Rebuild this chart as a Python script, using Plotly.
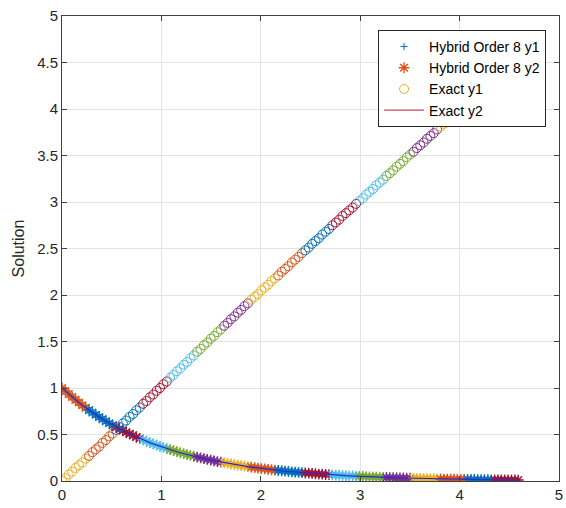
import plotly.graph_objects as go

# time mesh (17 blocks of 8 points each)
t = [0.000, 0.034, 0.068, 0.102, 0.136, 0.170, 0.204, 0.238,
     0.272, 0.306, 0.340, 0.374, 0.408, 0.442, 0.476, 0.510,
     0.544, 0.578, 0.612, 0.646, 0.680, 0.714, 0.748, 0.782,
     0.816, 0.850, 0.884, 0.918, 0.952, 0.986, 1.020, 1.054,
     1.088, 1.122, 1.156, 1.190, 1.224, 1.258, 1.292, 1.326,
     1.360, 1.394, 1.428, 1.462, 1.496, 1.530, 1.564, 1.598,
     1.632, 1.666, 1.700, 1.734, 1.768, 1.802, 1.836, 1.870,
     1.904, 1.938, 1.972, 2.006, 2.040, 2.074, 2.108, 2.142,
     2.176, 2.210, 2.244, 2.278, 2.312, 2.346, 2.380, 2.414,
     2.448, 2.482, 2.516, 2.550, 2.584, 2.618, 2.652, 2.686,
     2.720, 2.754, 2.788, 2.822, 2.856, 2.890, 2.924, 2.958,
     2.992, 3.026, 3.060, 3.094, 3.128, 3.162, 3.196, 3.230,
     3.264, 3.298, 3.332, 3.366, 3.400, 3.434, 3.468, 3.502,
     3.536, 3.570, 3.604, 3.638, 3.672, 3.706, 3.740, 3.774,
     3.808, 3.842, 3.876, 3.910, 3.944, 3.978, 4.012, 4.046,
     4.080, 4.114, 4.148, 4.182, 4.216, 4.250, 4.284, 4.318,
     4.352, 4.386, 4.420, 4.454, 4.488, 4.522, 4.556, 4.590]

# exact y1 (rises almost linearly)
exact_y1 = [0.00, 0.03, 0.07, 0.10, 0.14, 0.17, 0.20, 0.24,
            0.27, 0.31, 0.34, 0.37, 0.41, 0.44, 0.48, 0.51,
            0.55, 0.58, 0.62, 0.65, 0.69, 0.72, 0.76, 0.79,
            0.83, 0.86, 0.90, 0.93, 0.97, 1.00, 1.04, 1.07,
            1.11, 1.14, 1.18, 1.21, 1.25, 1.28, 1.32, 1.35,
            1.39, 1.42, 1.46, 1.49, 1.53, 1.56, 1.60, 1.63,
            1.67, 1.70, 1.74, 1.77, 1.81, 1.84, 1.88, 1.91,
            1.95, 1.98, 2.01, 2.05, 2.08, 2.11, 2.15, 2.18,
            2.21, 2.25, 2.28, 2.31, 2.35, 2.38, 2.41, 2.45,
            2.48, 2.51, 2.55, 2.58, 2.61, 2.65, 2.68, 2.71,
            2.75, 2.78, 2.81, 2.85, 2.88, 2.91, 2.94, 2.98,
            3.01, 3.04, 3.08, 3.11, 3.14, 3.18, 3.21, 3.24,
            3.28, 3.31, 3.34, 3.38, 3.41, 3.44, 3.48, 3.51,
            3.54, 3.58, 3.61, 3.64, 3.68, 3.71, 3.74, 3.78,
            3.81, 3.84, 3.88, 3.91, 3.94, 3.98, 4.01, 4.04,
            4.08, 4.11, 4.14, 4.18, 4.21, 4.24, 4.28, 4.31,
            4.34, 4.38, 4.41, 4.44, 4.48, 4.51, 4.54, 4.58]

# exact y2 (decays towards zero)
exact_y2 = [1.000, 0.967, 0.934, 0.903, 0.873, 0.844, 0.815, 0.788,
            0.762, 0.736, 0.712, 0.688, 0.665, 0.643, 0.621, 0.600,
            0.580, 0.561, 0.542, 0.524, 0.507, 0.490, 0.473, 0.457,
            0.442, 0.427, 0.413, 0.399, 0.386, 0.373, 0.361, 0.349,
            0.337, 0.326, 0.315, 0.304, 0.294, 0.284, 0.275, 0.266,
            0.257, 0.248, 0.240, 0.232, 0.224, 0.217, 0.209, 0.202,
            0.196, 0.189, 0.183, 0.177, 0.171, 0.165, 0.159, 0.154,
            0.149, 0.144, 0.139, 0.134, 0.130, 0.126, 0.121, 0.117,
            0.113, 0.110, 0.106, 0.102, 0.099, 0.096, 0.093, 0.089,
            0.086, 0.084, 0.081, 0.078, 0.075, 0.073, 0.070, 0.068,
            0.066, 0.064, 0.062, 0.059, 0.057, 0.056, 0.054, 0.052,
            0.050, 0.049, 0.047, 0.045, 0.044, 0.042, 0.041, 0.040,
            0.038, 0.037, 0.036, 0.035, 0.033, 0.032, 0.031, 0.030,
            0.029, 0.028, 0.027, 0.026, 0.025, 0.025, 0.024, 0.023,
            0.022, 0.021, 0.021, 0.020, 0.019, 0.019, 0.018, 0.017,
            0.017, 0.016, 0.016, 0.015, 0.015, 0.014, 0.014, 0.013,
            0.013, 0.012, 0.012, 0.012, 0.011, 0.011, 0.011, 0.010]

# hybrid order-8 results (drawn on the decaying track in the reference)
hybrid_y1 = exact_y2
hybrid_y2 = exact_y2

block_len = 8
n_blocks = 17
matlab_colors = ['#0072BD', '#D95319', '#EDB120', '#7E2F8E',
                 '#77AC30', '#4DBEEE', '#A2142F']

fig = go.Figure()

for k in range(n_blocks):
    s = slice(k * block_len, (k + 1) * block_len)
    base = (-k) % 7
    c_plus = matlab_colors[base]
    c_star = matlab_colors[(base + 1) % 7]
    c_circ = matlab_colors[(base + 2) % 7]
    first = (k == 0)
    fig.add_trace(go.Scatter(
        x=t[s], y=hybrid_y1[s], mode='markers', name='Hybrid Order 8 y1',
        legendgroup='h1', showlegend=first,
        marker=dict(symbol='cross-thin-open', size=5, color=c_plus,
                    line=dict(width=1, color=c_plus))))
    fig.add_trace(go.Scatter(
        x=t[s], y=hybrid_y2[s], mode='markers', name='Hybrid Order 8 y2',
        legendgroup='h2', showlegend=first,
        marker=dict(symbol='asterisk-open', size=9, color=c_star,
                    line=dict(width=1.4, color=c_star))))
    fig.add_trace(go.Scatter(
        x=t[s], y=exact_y1[s], mode='markers', name='Exact y1',
        legendgroup='e1', showlegend=first,
        marker=dict(symbol='circle-open', size=9, color=c_circ,
                    line=dict(width=1, color=c_circ))))

fig.add_trace(go.Scatter(
    x=t, y=exact_y2, mode='lines', name='Exact y2', legendgroup='e2',
    showlegend=False, line=dict(color='#2a2ad0', width=1.2)))
fig.add_trace(go.Scatter(
    x=[None], y=[None], mode='lines', name='Exact y2', legendgroup='e2',
    showlegend=True, line=dict(color='#D6405E', width=1.2)))

axis_common = dict(
    showline=True, linecolor='#404040', linewidth=1, mirror='ticks',
    ticks='inside', ticklen=5, tickcolor='#404040',
    showgrid=True, gridcolor='#e3e3e3', gridwidth=1, zeroline=False,
    ticklabeloverflow='allow',
    tickfont=dict(family='Liberation Sans, Arial, sans-serif', size=15,
                  color='#262626'))

fig.update_xaxes(range=[0, 5], tickvals=[0, 1, 2, 3, 4, 5], **axis_common)
fig.update_yaxes(range=[0, 5],
                 tickvals=[0, 0.5, 1, 1.5, 2, 2.5, 3, 3.5, 4, 4.5, 5],
                 ticktext=['0', '0.5', '1', '1.5', '2', '2.5', '3', '3.5',
                           '4', '4.5', '5'],
                 title=dict(text='Solution', standoff=8,
                            font=dict(family='Liberation Sans, Arial, sans-serif',
                                      size=16, color='#262626')),
                 **axis_common)

fig.update_layout(
    width=566, height=508,
    margin=dict(l=62, r=3, t=16, b=27),
    paper_bgcolor='white', plot_bgcolor='white',
    legend=dict(x=0.974, y=0.970, xanchor='right', yanchor='top',
                bgcolor='white', bordercolor='#262626', borderwidth=1,
                font=dict(family='Liberation Sans, Arial, sans-serif',
                          size=14, color='#000000'),
                itemwidth=40, tracegroupgap=0),
    showlegend=True,
)

fig.write_html('out.html')
